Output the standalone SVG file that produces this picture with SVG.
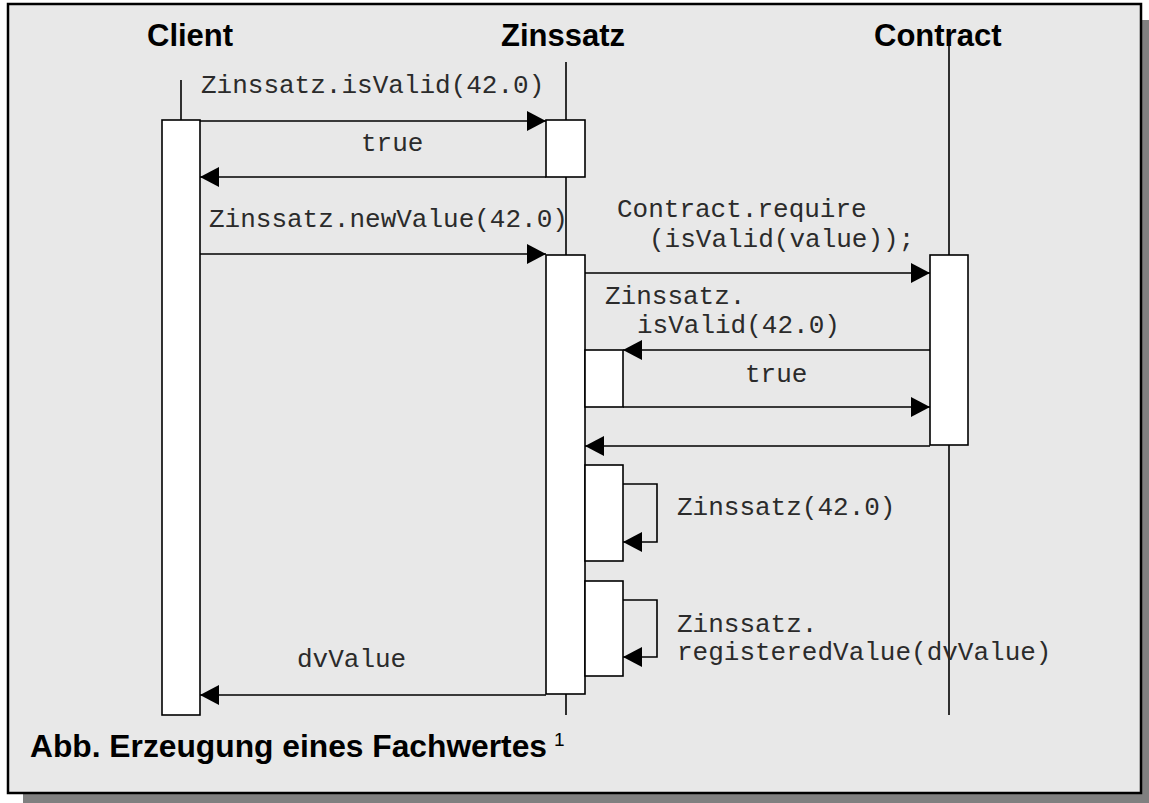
<svg xmlns="http://www.w3.org/2000/svg" width="1149" height="803" viewBox="0 0 1149 803">
  <style>
    .frame { fill: #e8e8e8; stroke: #000; stroke-width: 2.5; }
    .shadow { fill: #808080; }
    .life { stroke: #000; stroke-width: 1.6; fill: none; }
    .act { fill: #fff; stroke: #000; stroke-width: 1.6; }
    .msg { stroke: #000; stroke-width: 1.6; fill: none; marker-end: url(#head); }
    .head { font-family: "Liberation Sans", Arial, sans-serif; font-weight: bold; font-size: 31px; fill: #000; }
    .code { font-family: "Liberation Mono", "Courier New", monospace; font-size: 26px; fill: #2b2b2b; }
    .cap { font-family: "Liberation Sans", Arial, sans-serif; font-weight: bold; font-size: 31px; fill: #000; }
    .sup { font-family: "Liberation Sans", Arial, sans-serif; font-size: 19px; fill: #000; }
  </style>
  <defs>
    <marker id="head" markerUnits="userSpaceOnUse" markerWidth="20" markerHeight="20" refX="19" refY="10" orient="auto">
      <path d="M0,0 L19,10 L0,20 Z" fill="#000"/>
    </marker>
  </defs>

  <!-- drop shadow and panel -->
  <rect class="shadow" x="1141" y="20" width="8" height="783"/>
  <rect class="shadow" x="23" y="793" width="1126" height="10"/>
  <rect class="frame" x="8" y="4" width="1133" height="789"/>

  <!-- Client -->
  <g id="client">
    <text class="head" x="147" y="46">Client</text>
    <line class="life" x1="181" y1="80" x2="181" y2="120"/>
    <rect class="act" x="162" y="120" width="38" height="595"/>
  </g>

  <!-- Zinssatz -->
  <g id="zinssatz">
    <text class="head" x="501" y="46">Zinssatz</text>
    <line class="life" x1="566" y1="62" x2="566" y2="715"/>
    <rect class="act" x="546" y="120" width="39" height="57"/>
    <rect class="act" x="546" y="255" width="39" height="439"/>
    <rect class="act" x="585" y="350" width="38" height="57"/>
    <rect class="act" x="585" y="465" width="38" height="96"/>
    <rect class="act" x="585" y="581" width="38" height="95"/>
  </g>

  <!-- Contract -->
  <g id="contract">
    <text class="head" x="874" y="46">Contract</text>
    <line class="life" x1="949" y1="46" x2="949" y2="715"/>
    <rect class="act" x="930" y="255" width="38" height="190"/>
  </g>

  <!-- messages -->
  <g id="connectors">
    <line class="msg" x1="200" y1="121" x2="546" y2="121"/>
    <line class="msg" x1="546" y1="177" x2="200" y2="177"/>
    <line class="msg" x1="200" y1="254" x2="546" y2="254"/>
    <line class="msg" x1="585" y1="273" x2="930" y2="273"/>
    <line class="msg" x1="930" y1="350" x2="623" y2="350"/>
    <line class="msg" x1="623" y1="407" x2="930" y2="407"/>
    <line class="msg" x1="930" y1="446" x2="585" y2="446"/>
    <polyline class="msg" points="623,484 657,484 657,542 623,542"/>
    <polyline class="msg" points="623,600 657,600 657,657 623,657"/>
    <line class="msg" x1="546" y1="695" x2="200" y2="695"/>
  </g>

  <!-- message labels -->
  <g id="labels">
    <text class="code" x="201" y="93">Zinssatz.isValid(42.0)</text>
    <text class="code" x="361" y="151">true</text>
    <text class="code" x="209" y="227">Zinssatz.newValue(42.0)</text>
    <text class="code" x="617" y="217">Contract.require</text>
    <text class="code" x="649" y="247">(isValid(value));</text>
    <text class="code" x="605" y="304">Zinssatz.</text>
    <text class="code" x="637" y="333">isValid(42.0)</text>
    <text class="code" x="745" y="382">true</text>
    <text class="code" x="677" y="515">Zinssatz(42.0)</text>
    <text class="code" x="677" y="632">Zinssatz.</text>
    <text class="code" x="677" y="660">registeredValue(dvValue)</text>
    <text class="code" x="297" y="667">dvValue</text>
  </g>

  <!-- caption -->
  <text class="cap" x="30" y="757" textLength="517" lengthAdjust="spacingAndGlyphs">Abb. Erzeugung eines Fachwertes</text>
  <text class="sup" x="554" y="746">1</text>
</svg>
